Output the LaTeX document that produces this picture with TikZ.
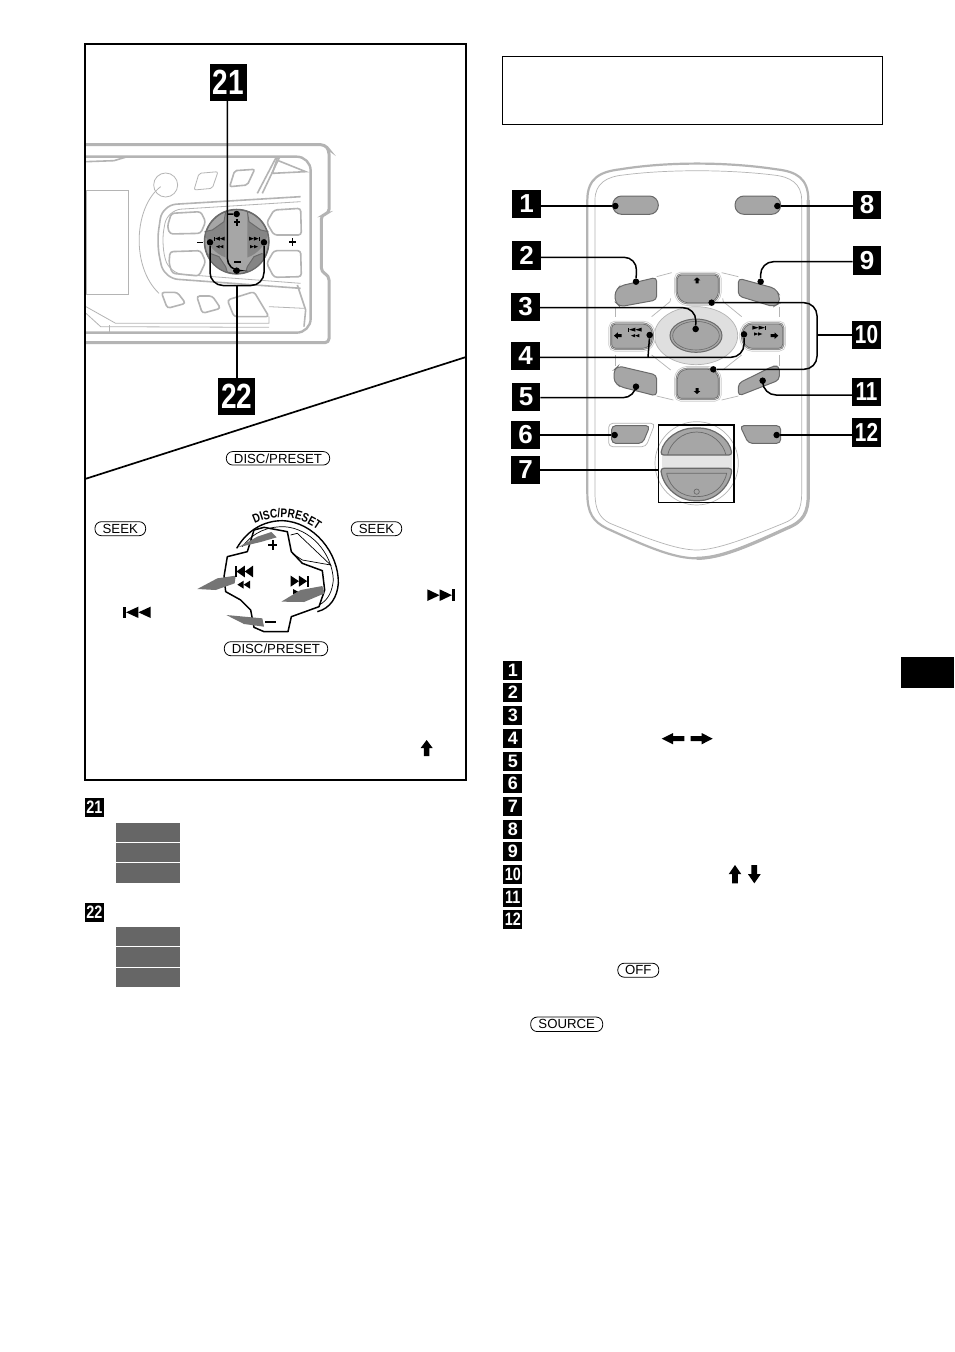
\documentclass[tikz,border=0pt]{standalone}
\usepackage{fontspec}
\usepackage{graphicx}
\setmainfont{Liberation Sans}
\newfontface\discfont[FakeStretch=0.8]{Liberation Sans Bold}
\usetikzlibrary{decorations.text,calc}
\definecolor{hugray}{HTML}{B4B4B4}
\definecolor{btn}{HTML}{A6A6A6}
\definecolor{btnedge}{HTML}{6A6A6A}
\definecolor{barg}{HTML}{666666}
\definecolor{arrg}{HTML}{757575}
\newcommand\fsz[1]{\fontsize{#1}{#1}\selectfont}
\newcommand\nar[1]{\scalebox{0.8}[1]{#1}}
\tikzset{
  big/.style={fill=black,text=white,inner sep=0,minimum size=37,font=\fsz{35}\bfseries},
  mid/.style={fill=black,text=white,inner sep=0,minimum size=28.5,font=\fsz{26}\bfseries},
  small/.style={fill=black,text=white,inner sep=0,minimum size=19,font=\fsz{18}\bfseries},
  dotn/.style={circle,fill=black,inner sep=0,minimum size=6.5},
  leader/.style={draw=black,line width=1.5,rounded corners=13},
  pill/.style={draw=black,line width=0.8,rounded corners=6.5,inner sep=0,font=\fsz{13.2}},
  za/.style={shift={(84,40)},x=0.33333pt,y=-0.33333pt},
  zb/.style={shift={(84,420)},x=0.33333pt,y=-0.33333pt},
  zc/.style={shift={(500,160)},x=0.33333pt,y=-0.33333pt},
  zd/.style={shift={(495,650)},x=0.33333pt,y=-0.33333pt},
  grayb/.style={fill=btn,draw=btnedge,line width=1,rounded corners=4},
  thinh/.style={draw=hugray,line width=0.8},
  thickh/.style={draw=hugray,line width=2.4},
  midh/.style={draw=hugray,line width=1.6},
}
% glyph helpers: left x, top y, width, height
\newcommand\gPrev[4]{\fill ({#1},{#2}) rectangle ({#1+0.1*#3},{#2+#4});
 \fill ({#1+0.1*#3},{#2+0.5*#4}) -- ({#1+0.55*#3},{#2}) -- ({#1+0.55*#3},{#2+#4}) -- cycle;
 \fill ({#1+0.55*#3},{#2+0.5*#4}) -- ({#1+#3},{#2}) -- ({#1+#3},{#2+#4}) -- cycle;}
\newcommand\gNext[4]{\fill ({#1+0.9*#3},{#2}) rectangle ({#1+#3},{#2+#4});
 \fill ({#1+0.9*#3},{#2+0.5*#4}) -- ({#1+0.45*#3},{#2}) -- ({#1+0.45*#3},{#2+#4}) -- cycle;
 \fill ({#1+0.45*#3},{#2+0.5*#4}) -- ({#1},{#2}) -- ({#1},{#2+#4}) -- cycle;}
\newcommand\gRew[4]{\fill ({#1},{#2+0.5*#4}) -- ({#1+0.5*#3},{#2}) -- ({#1+0.5*#3},{#2+#4}) -- cycle;
 \fill ({#1+0.5*#3},{#2+0.5*#4}) -- ({#1+#3},{#2}) -- ({#1+#3},{#2+#4}) -- cycle;}
\newcommand\gFwd[4]{\fill ({#1+#3},{#2+0.5*#4}) -- ({#1+0.5*#3},{#2}) -- ({#1+0.5*#3},{#2+#4}) -- cycle;
 \fill ({#1+0.5*#3},{#2+0.5*#4}) -- ({#1},{#2}) -- ({#1},{#2+#4}) -- cycle;}
% arrows: cx, tip y, base y, half width
\newcommand\gArrV[4]{\fill ({#1},{#2}) -- ({#1+#4},{#2+0.5*(#3-#2)}) -- ({#1+0.45*#4},{#2+0.5*(#3-#2)}) -- ({#1+0.45*#4},{#3}) -- ({#1-0.45*#4},{#3}) -- ({#1-0.45*#4},{#2+0.5*(#3-#2)}) -- ({#1-#4},{#2+0.5*(#3-#2)}) -- cycle;}
\newcommand\gArrH[4]{\fill ({#2},{#1}) -- ({#2+0.5*(#3-#2)},{#1+#4}) -- ({#2+0.5*(#3-#2)},{#1+0.45*#4}) -- ({#3},{#1+0.45*#4}) -- ({#3},{#1-0.45*#4}) -- ({#2+0.5*(#3-#2)},{#1-0.45*#4}) -- ({#2+0.5*(#3-#2)},{#1-#4}) -- cycle;}
\newcommand\dkey[1]{%
 \draw[line width=6.5,color=hugray!70,rounded corners=4] #1;
 \draw[line width=5,color=white,rounded corners=4] #1;
 \draw[line width=3.4,color=btnedge!80,rounded corners=4] #1;
 \draw[line width=1.6,color=white!85!black,rounded corners=4] #1;
 \fill[btn,rounded corners=4] #1;
 \draw[line width=0.7,color=btnedge,rounded corners=4] #1;}
\begin{document}
\begin{tikzpicture}[x=1pt,y=-1pt]
\useasboundingbox (0,0) rectangle (954,1352);
\fill[white] (0,0) rectangle (954,1352);

% ---------- head unit ----------
\begin{scope}[za]
 \draw[thickh,line width=3,rounded corners=4] (6,314) -- (722,314) -- (735,330) -- (735,520) -- (712,525) -- (712,695) -- (735,708) -- (735,908) -- (6,908);
 \draw[thickh,rounded corners=14] (6,350) -- (680,350) -- (680,878) -- (6,878);
 \draw[thinh] (6,450) rectangle (133,763);
 \draw[midh] (6,365) -- (90,362) -- (130,350);
 \draw[thinh] (245,435) circle (36);
 \draw[thinh,rounded corners=2] (345,400) -- (402,395) -- (385,445) -- (330,450) -- cycle;
 \draw[midh,rounded corners=2] (452,392) -- (512,388) -- (490,435) -- (437,440) -- cycle;
 \draw[thinh] (230,440) .. controls (150,500) and (140,680) .. (225,760);
 \draw[midh,rounded corners=14] (650,470) -- (235,495) -- (218,610) -- (240,715) -- (650,745);
 \draw[thinh,rounded corners=14] (650,485) -- (250,510) -- (232,610) -- (255,700) -- (650,730);
 \draw[midh,rounded corners=3] (262,520) -- (350,515) -- (365,545) -- (350,580) -- (258,582) -- (250,560) -- cycle;
 \draw[midh,rounded corners=3] (258,635) -- (350,632) -- (365,665) -- (345,708) -- (265,700) -- (255,670) -- cycle;
 \draw[midh,rounded corners=3] (570,510) -- (650,505) -- (652,585) -- (570,585) -- (548,548) -- cycle;
 \draw[midh,rounded corners=3] (570,632) -- (650,632) -- (652,710) -- (570,712) -- (548,670) -- cycle;
 \draw[midh,rounded corners=3] (232,757) -- (280,757) -- (305,790) -- (250,805) -- cycle;
 \draw[midh,rounded corners=3] (338,768) -- (385,768) -- (410,805) -- (355,820) -- cycle;
 \draw[midh,rounded corners=3] (430,780) -- (510,755) -- (555,830) -- (450,830) -- cycle;
 \draw[midh] (520,460) -- (575,355) -- (585,355) -- (535,460);
 \draw[midh] (565,400) -- (578,360) -- (665,395) -- (565,400);
 \draw[thinh] (6,800) -- (95,850) -- (555,850) -- (555,830);
 \draw[thinh] (6,820) -- (50,860) -- (555,862);
 \draw[midh] (640,735) -- (665,810) -- (660,860);
 \draw[thinh] (555,800) -- (660,805);
 \draw[thinh] (75,855) -- (75,875);
 \node[circle,fill=btn,draw=btnedge,line width=1.2,minimum size=64,inner sep=0] (dial) at (458,605) {};
 \fill[btn!80!black] (425,515) -- (420,545) -- (385,570) -- (362,575) arc (172:110:97) -- cycle;
 \fill[btn!80!black] (490,515) -- (495,545) -- (530,570) -- (553,575) arc (8:70:97) -- cycle;
 \fill[btn!80!black] (378,640) -- (405,650) -- (425,680) -- (430,697) arc (107:156:97) -- cycle;
 \fill[btn!80!black] (535,640) -- (510,650) -- (490,680) -- (485,697) arc (73:24:97) -- cycle;
 \draw[btnedge,line width=1] (425,515) -- (420,545) -- (385,570) -- (362,575);
 \draw[btnedge,line width=1] (490,515) -- (495,545) -- (530,570) -- (553,575);
 \draw[btnedge,line width=1] (378,640) -- (405,650) -- (425,680) -- (430,697);
 \draw[btnedge,line width=1] (535,640) -- (510,650) -- (490,680) -- (485,697);
 \draw[btnedge,line width=1.2] (458,605) circle (97);
 \fill (449,544) rectangle (467,550); \fill (456,537) rectangle (461,558);
 \fill (449,663) rectangle (471,669);
 \fill (340,605) rectangle (356,610);
 \fill (615,604) rectangle (636,608); \fill (623,595) rectangle (628,617);
 \gPrev{390}{590}{32}{12} \gRew{396}{615}{22}{10}
 \gNext{495}{590}{32}{12} \gFwd{498}{615}{24}{10}
 \node[dotn] (d21a) at (458,522) {};
 \node[dotn] (d21b) at (458,692) {};
 \node[dotn] (d22a) at (378,607) {};
 \node[dotn] (d22b) at (540,607) {};
\end{scope}
\node[big] (c21) at (228.3,82.4) {\nar{21}};
\node[big] (c22) at (236.7,396.5) {\nar{22}};
\coordinate (b21top) at (227.3,214);
\coordinate (b21low) at (227.3,271);
\coordinate (b22j) at (237,285.5);
\coordinate (b22l) at (210,285.5);
\coordinate (b22r) at (264,285.5);
\draw[leader] (c21.south -| b21top) -- (b21low) -- (d21b);
\draw[leader,rounded corners=3] (b21top) -- (d21a);
\draw[leader] (c22.north -| b22j) -- (b22j);
\draw[leader] (d22a) -- (b22l) -- (b22r) -- (d22b);

% frame and diagonal
\coordinate (fa) at (85,44);
\coordinate (fb) at (466,780);
\coordinate (dg1) at (85,479);
\coordinate (dg2) at (466,357);
\draw[line width=2] (fa) rectangle (fb);
\draw[line width=1.7] (dg1) -- (dg2);

% ---------- dial lower-left ----------
\begin{scope}[zb]
 \draw[line width=1.4] (458,385) .. controls (490,330) and (540,302) .. (595,302) .. controls (690,305) and (765,400) .. (763,490) .. controls (760,530) and (740,565) .. (700,575);
 \draw[line width=0.7] (475,380) .. controls (510,335) and (550,320) .. (600,320) .. controls (680,325) and (745,400) .. (748,480) .. controls (745,510) and (735,540) .. (705,555);
 \draw[line width=1.5,line join=round] (510,330) -- (540,322) -- (610,335) -- (622,395) -- (655,430) -- (715,452) -- (722,510) -- (705,560) -- (622,590) -- (612,635) -- (540,635) -- (510,622) -- (500,570) -- (470,540) -- (425,515) -- (420,470) -- (430,410) -- (490,395) -- cycle;
 \draw[line width=0.7] (620,345) -- (640,340) -- (740,435) -- (655,420) -- (625,400);
 \fill[arrg] (462,382) -- (520,350) -- (562,336) -- (578,352) -- (530,366) -- cycle;
 \fill[arrg] (340,507) -- (400,475) -- (455,467) -- (452,490) -- (395,510) -- cycle;
 \fill[arrg] (592,545) -- (650,510) -- (715,498) -- (722,520) -- (660,546) -- cycle;
 \fill[arrg] (427,585) -- (535,595) -- (540,620) -- (480,612) -- cycle;
 \fill (553,372) rectangle (580,379); \fill (563,361) rectangle (570,390);
 \fill (542,603) rectangle (575,610);
 \gPrev{452}{437}{55}{35}
 \gRew{460}{482}{38}{24}
 \gNext{620}{467}{55}{33}
 \fill (627,507) -- (642,515) -- (627,523) -- cycle;
 \gPrev{118}{560}{82}{34}
 \gNext{1030}{508}{82}{35}
 \gArrV{1028}{960}{1008}{18}
\end{scope}
\node[pill,minimum width=103.4,minimum height=13.5] (p1) at (278,458.3) {DISC/PRESET};
\node[pill,minimum width=103.4,minimum height=14] (p2) at (276,648.7) {DISC/PRESET};
\node[pill,minimum width=50.7,minimum height=14] (p3) at (120.3,528.7) {SEEK};
\node[pill,minimum width=50.4,minimum height=14] (p4) at (376.5,528.7) {SEEK};
\coordinate (ds) at (250,526);
\coordinate (de) at (322,533);
\path[decorate,decoration={text along path,text align=center,text={|\fsz{12.5}\discfont|DISC/PRESET}}] (ds) to[bend left=34] (de);

% ---------- bars ----------
\coordinate (r1) at (116,823); \coordinate (r1e) at (180,842.2);
\coordinate (r2) at (116,843); \coordinate (r2e) at (180,862.2);
\coordinate (r3) at (116,863); \coordinate (r3e) at (180,882.8);
\coordinate (r4) at (116,927); \coordinate (r4e) at (180,946.2);
\coordinate (r5) at (116,947); \coordinate (r5e) at (180,966.8);
\coordinate (r6) at (116,968); \coordinate (r6e) at (180,987);
\foreach \a/\b in {r1/r1e,r2/r2e,r3/r3e,r4/r4e,r5/r5e,r6/r6e}{\fill[barg] (\a) rectangle (\b);}
\node[small] (l21) at (94.5,807.3) {\nar{21}};
\node[small] (l22) at (94.5,912.5) {\nar{22}};

% ---------- note box ----------
\coordinate (nb1) at (502.5,56.5);
\coordinate (nb2) at (882.6,124.5);
\draw[line width=0.8] (nb1) rectangle (nb2);

% ---------- remote ----------
\begin{scope}[zc]
 \draw[hugray,line width=2.2] (262,120) .. controls (262,55) and (300,35) .. (360,28) .. controls (500,5) and (680,5) .. (830,28) .. controls (890,35) and (925,55) .. (925,120) -- (925,1000) .. controls (925,1060) and (910,1085) .. (860,1105) .. controls (740,1160) and (660,1195) .. (590,1195) .. controls (520,1195) and (440,1160) .. (320,1105) .. controls (280,1085) and (262,1060) .. (262,1000) -- cycle;
 \draw[hugray,line width=3.2] (925,120) -- (925,1000) .. controls (925,1060) and (910,1085) .. (860,1105) .. controls (740,1160) and (660,1195) .. (590,1195);
 \draw[hugray,line width=0.7] (285,120) .. controls (285,70) and (320,50) .. (370,45) .. controls (500,28) and (680,28) .. (820,45) .. controls (870,50) and (905,70) .. (905,120) -- (905,1000) .. controls (905,1050) and (890,1075) .. (850,1090) .. controls (740,1135) and (650,1170) .. (590,1170) .. controls (530,1170) and (440,1135) .. (330,1090) .. controls (300,1075) and (285,1050) .. (285,1000) -- cycle;
 % thin background of D-pad
 \draw[hugray,line width=0.7] (470,350) -- (515,338);
 \draw[hugray,line width=0.7] (665,338) -- (715,350);
 \draw[hugray,line width=0.7] (345,440) -- (345,470);
 \draw[hugray,line width=0.7] (838,440) -- (838,470);
 \draw[hugray,line width=0.7] (345,585) -- (345,618);
 \draw[hugray,line width=0.7] (838,585) -- (838,618);
 \draw[hugray,line width=0.7] (470,708) -- (520,720);
 \draw[hugray,line width=0.7] (665,720) -- (715,708);
 \draw[hugray,line width=0.7] (512,415) -- (510,425) -- (455,470);
 \draw[hugray,line width=0.7] (668,415) -- (670,425) -- (725,470);
 \draw[hugray,line width=0.7] (455,585) -- (512,630);
 \draw[hugray,line width=0.7] (725,585) -- (668,630);
 \fill[gray!25] (588,527) ellipse (125 and 87);
 \draw[hugray,line width=0.7] (588,527) ellipse (125 and 87);
 \draw[grayb] (345,395) -- (360,378) -- (470,352) -- (470,420) -- (360,440) -- (345,425) -- cycle;
 \draw[grayb] (715,355) -- (825,385) -- (838,405) -- (838,430) -- (820,440) -- (715,408) -- cycle;
 \draw[grayb] (342,630) -- (355,618) -- (470,645) -- (470,708) -- (360,680) -- (342,665) -- cycle;
 \draw[grayb] (715,670) -- (820,618) -- (838,618) -- (838,660) -- (715,708) -- cycle;
 \dkey{(532,345) -- (655,345) -- (655,408) -- (635,428) -- (550,428) -- (532,408) -- cycle}
 \dkey{(550,628) -- (635,628) -- (655,645) -- (655,715) -- (532,715) -- (532,645) -- cycle}
 \dkey{(335,492) -- (440,492) -- (457,510) -- (457,545) -- (440,565) -- (335,565) -- cycle}
 \dkey{(745,492) -- (848,492) -- (848,565) -- (745,565) -- (728,545) -- (728,510) -- cycle}
 \draw[fill=btn,draw=btnedge,line width=1] (588,527) ellipse (78 and 50);
 \draw[btnedge,line width=0.6] (588,527) ellipse (70 and 43);
 \draw[grayb,rounded corners=9] (338,108) rectangle (475,163);
 \draw[grayb,rounded corners=9] (705,108) rectangle (842,163);
 \draw[hugray,line width=0.7,rounded corners=4] (326,790) -- (465,790) -- (438,860) -- (326,860) -- cycle;
 \draw[grayb] (335,797) -- (450,797) -- (428,850) -- (335,850) -- cycle;
 \draw[grayb] (720,797) -- (842,797) -- (842,850) -- (745,850) -- cycle;
 % rocker
 \draw[hugray,line width=0.7] (590,910) circle (125);
 \fill[gray!20] (485,885) rectangle (695,935);
 \draw[fill=btn,draw=btnedge,line width=1.2,rounded corners=3] (482,885) .. controls (490,835) and (540,804) .. (590,804) .. controls (640,804) and (688,835) .. (696,885) -- cycle;
 \draw[btnedge,line width=0.7] (503,885) .. controls (510,850) and (545,816) .. (590,816) .. controls (635,816) and (670,850) .. (678,885);
 \draw[fill=btn,draw=btnedge,line width=1.2,rounded corners=3] (482,925) .. controls (490,985) and (540,1022) .. (590,1022) .. controls (640,1022) and (688,985) .. (696,925) -- cycle;
 \draw[btnedge,line width=0.7] (500,940) -- (680,940) .. controls (670,985) and (635,1010) .. (590,1010) .. controls (545,1010) and (510,985) .. (500,940);
 \draw[btnedge,line width=0.7] (590,995) circle (8);
 \gPrev{383}{503}{42}{12}
 \gRew{393}{522}{25}{10}
 \gNext{757}{497}{42}{12}
 \gFwd{762}{517}{25}{10}
 \gArrV{591}{352}{370}{10}
 \gArrV{591}{702}{684}{10}
 \gArrH{527}{342}{365}{10}
 \gArrH{527}{835}{812}{10}
 \node[draw=black,line width=1.2,inner sep=0,minimum width=75.5,minimum height=77.7] (rbox) at (589,911.5) {};
 \node[dotn] (d1) at (346,138) {};
 \node[dotn] (d8) at (832,138) {};
 \node[dotn] (d2) at (408,365) {};
 \node[dotn] (d9) at (782,365) {};
 \node[dotn] (d3) at (587,507) {};
 \node[dotn] (d4l) at (449,525) {};
 \node[dotn] (d4r) at (732,523) {};
 \node[dotn] (d10a) at (635,428) {};
 \node[dotn] (d10b) at (640,628) {};
 \node[dotn] (d5) at (408,680) {};
 \node[dotn] (d11) at (788,662) {};
 \node[dotn] (d6) at (344,825) {};
 \node[dotn] (d12) at (830,825) {};
\end{scope}
\node[mid] (c1) at (526.5,204) {1};
\node[mid] (c2) at (526.5,255.5) {2};
\node[mid] (c3) at (525.5,307) {3};
\node[mid] (c4) at (525.5,356) {4};
\node[mid] (c5) at (526,397) {5};
\node[mid] (c6) at (525.5,435) {6};
\node[mid] (c7) at (525.5,470) {7};
\node[mid] (c8) at (867,205) {8};
\node[mid] (c9) at (867,260.5) {9};
\node[mid] (c10) at (866.5,335) {\nar{10}};
\node[mid] (c11) at (866.5,392) {\nar{11}};
\node[mid] (c12) at (866.5,432.5) {\nar{12}};
\coordinate (b2) at (637,257.3);
\coordinate (b9) at (760.5,261.7);
\coordinate (b3) at (696,307.7);
\coordinate (b4) at (744,357.3);
\coordinate (b4l) at (648,357.3);
\coordinate (b5) at (636,397.7);
\coordinate (b11) at (763,395);
\coordinate (b10t) at (817,302.7);
\coordinate (b10b) at (817,369.3);
\coordinate (b10m) at (817,335);
\draw[leader] (c1.east |- d1) -- (d1);
\draw[leader] (c8.west |- d8) -- (d8);
\draw[leader] (c6.east |- d6) -- (d6);
\draw[leader] (c12.west |- d12) -- (d12);
\draw[leader] (c2.east |- b2) -- (b2) -- (d2);
\draw[leader] (c9.west |- b9) -- (b9) -- (d9);
\draw[leader] (c3.east |- b3) -- (b3) -- (d3);
\draw[leader] (c4.east |- b4) -- (b4) -- (d4r);
\draw[leader,rounded corners=2] (b4l) -- (d4l);
\draw[leader] (c5.east |- b5) -- (b5) -- (d5);
\draw[leader] (c11.west |- b11) -- (b11) -- (d11);
\draw[leader] (d10a) -- (b10t) -- (b10b) -- (d10b);
\draw[leader] (c10.west) -- (b10m);
\draw[leader] (c7.east) -- (c7.east -| rbox.west);

% ---------- list ----------
\foreach \n/\y in {1/670.5,2/692.3,3/715.5,4/738.5,5/761,6/783.5,7/806.5,8/829.5,9/851.5}{
 \node[small] (li\n) at (512.8,\y) {\n};}
\node[small] (li10) at (512.8,874.5) {\nar{10}};
\node[small] (li11) at (512.8,897.2) {\nar{11}};
\node[small] (li12) at (512.8,919.4) {\nar{12}};
\begin{scope}[zd]
 \gArrH{266}{500}{568}{17}
 \gArrH{266}{653}{587}{17}
 \gArrV{720}{645}{700}{19}
 \gArrV{778}{700}{645}{19}
\end{scope}
\node[pill,minimum width=41,minimum height=14] (off) at (638.3,970.2) {OFF};
\node[pill,minimum width=72,minimum height=14.5] (src) at (566.7,1024.3) {SOURCE};

% tab
\coordinate (t1) at (901,657);
\coordinate (t2) at (954,688);
\fill[black] (t1) rectangle (t2);
\end{tikzpicture}
\end{document}
